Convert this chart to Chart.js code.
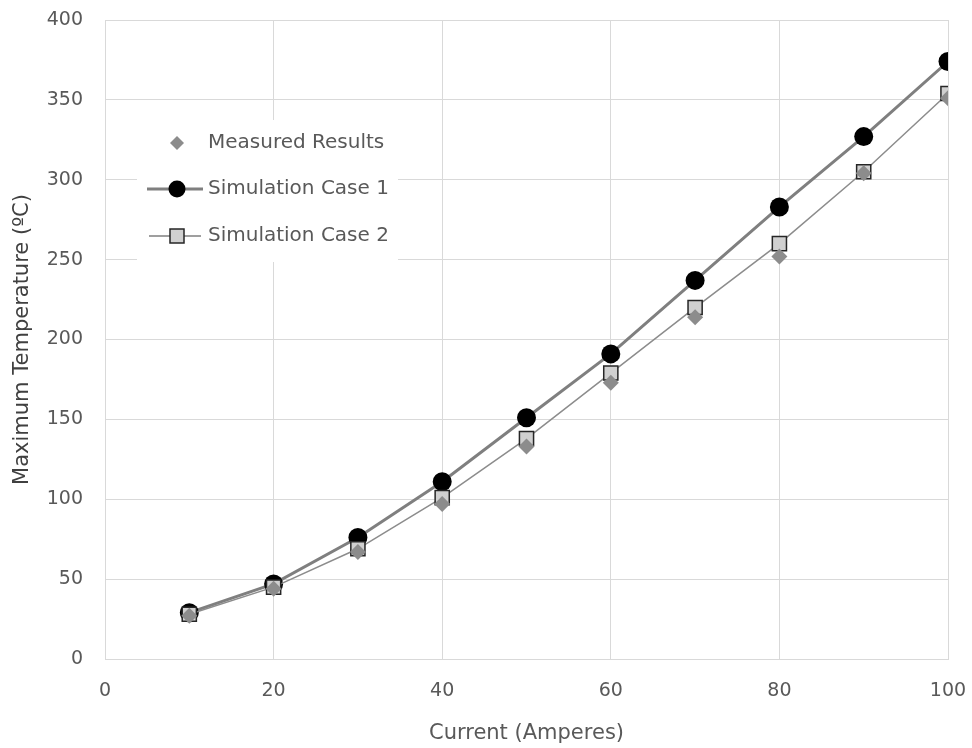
<!DOCTYPE html>
<html>
<head>
<meta charset="utf-8">
<script src="https://cdn.jsdelivr.net/npm/chart.js@4.4.0/dist/chart.umd.min.js"></script>
<style>
  html, body { margin: 0; padding: 0; background: #fff; }
  #wrap { width: 972px; height: 748px; }
</style>
</head>
<body>
<div id="wrap"><canvas id="tempChart" width="972" height="748"></canvas></div>
<script>
const CURRENTS = [10, 20, 30, 40, 50, 60, 70, 80, 90, 100];
const MEASURED = [27, 44, 67, 97, 133, 173, 214, 252, 304, 351];
const SIM_CASE_1 = [29, 47, 76, 111, 151, 191, 237, 283, 327, 374];
const SIM_CASE_2 = [28, 45, 69, 101, 138, 179, 220, 260, 305, 354];
const LEGEND_LABELS = ['Measured Results', 'Simulation Case 1', 'Simulation Case 2'];

const FONT = '"DejaVu Sans", "Noto Sans", sans-serif';
const toPoints = vals => vals.map((v, i) => ({ x: CURRENTS[i], y: v }));

// legend sits inside the plot on a white box, like the original
const insideLegend = {
    id: 'insideLegend',
    beforeDatasetsDraw(chart) {
        const ctx = chart.ctx;
        ctx.save();
        ctx.fillStyle = '#ffffff';
        ctx.fillRect(137, 120, 261, 142);
        ctx.font = '20px ' + FONT;
        ctx.textBaseline = 'middle';
        const rows = [143, 189, 236];
        const cx = 177;
        // measured: diamond only
        ctx.fillStyle = '#8c8c8c';
        ctx.beginPath();
        ctx.moveTo(cx, rows[0] - 7);
        ctx.lineTo(cx + 7, rows[0]);
        ctx.lineTo(cx, rows[0] + 7);
        ctx.lineTo(cx - 7, rows[0]);
        ctx.closePath();
        ctx.fill();
        // case 1: thick line + black circle
        ctx.strokeStyle = '#7f7f7f';
        ctx.lineWidth = 3;
        ctx.beginPath();
        ctx.moveTo(147, rows[1]);
        ctx.lineTo(203, rows[1]);
        ctx.stroke();
        ctx.fillStyle = '#000000';
        ctx.beginPath();
        ctx.arc(cx, rows[1], 8.5, 0, Math.PI * 2);
        ctx.fill();
        // case 2: thin line + grey square
        ctx.strokeStyle = '#7f7f7f';
        ctx.lineWidth = 1.5;
        ctx.beginPath();
        ctx.moveTo(149, rows[2]);
        ctx.lineTo(201, rows[2]);
        ctx.stroke();
        ctx.fillStyle = '#d0d0d0';
        ctx.fillRect(cx - 7, rows[2] - 7, 14, 14);
        ctx.strokeStyle = '#262626';
        ctx.lineWidth = 1.5;
        ctx.strokeRect(cx - 7, rows[2] - 7, 14, 14);

        ctx.fillStyle = '#595959';
        ctx.fillText(LEGEND_LABELS[0], 208, rows[0]);
        ctx.fillText(LEGEND_LABELS[1], 208, rows[1]);
        ctx.fillText(LEGEND_LABELS[2], 208, rows[2]);
        ctx.restore();
    }
};

const ctx = document.getElementById('tempChart').getContext('2d');
new Chart(ctx, {
    type: 'line',
    data: {
        datasets: [
            {
                label: LEGEND_LABELS[0],
                data: toPoints(MEASURED),
                showLine: false,
                pointStyle: 'rectRot',
                pointRadius: 8,
                pointBackgroundColor: '#8c8c8c',
                pointBorderColor: '#8c8c8c',
                pointBorderWidth: 0,
                order: 0
            },
            {
                label: LEGEND_LABELS[1],
                data: toPoints(SIM_CASE_1),
                borderColor: '#7f7f7f',
                borderWidth: 3,
                pointStyle: 'circle',
                pointRadius: 9.5,
                pointBackgroundColor: '#000000',
                pointBorderColor: '#000000',
                pointBorderWidth: 0,
                order: 2
            },
            {
                label: LEGEND_LABELS[2],
                data: toPoints(SIM_CASE_2),
                borderColor: '#8c8c8c',
                borderWidth: 1.5,
                pointStyle: 'rect',
                pointRadius: 10,
                pointBackgroundColor: '#d0d0d0',
                pointBorderColor: '#262626',
                pointBorderWidth: 1.5,
                order: 1
            }
        ]
    },
    options: {
        responsive: false,
        animation: false,
        layout: { padding: { top: 20, right: 24, left: 0, bottom: 0 } },
        plugins: {
            legend: { display: false },
            tooltip: { enabled: false }
        },
        scales: {
            x: {
                type: 'linear',
                min: 0,
                max: 100,
                ticks: { stepSize: 20, padding: 21, color: '#595959', font: { family: FONT, size: 19 } },
                grid: { color: '#d9d9d9', drawTicks: false },
                border: { color: '#d9d9d9' },
                title: { display: true, text: 'Current (Amperes)', color: '#595959', padding: { top: 2, bottom: 2 }, font: { family: FONT, size: 21 } },
                afterFit: scale => {
                    scale.height = 89;
                    scale.paddingLeft = 0;
                    scale.paddingRight = 0;
                }
            },
            y: {
                min: 0,
                max: 400,
                ticks: { stepSize: 50, padding: 22, color: '#595959', font: { family: FONT, size: 19 } },
                grid: { color: '#d9d9d9', drawTicks: false },
                border: { color: '#d9d9d9' },
                title: { display: true, text: 'Maximum Temperature (ºC)', color: '#404040', padding: { top: 10, bottom: 5 }, font: { family: FONT, size: 21 } },
                afterFit: scale => {
                    scale.width = 105;
                    scale.paddingTop = 0;
                    scale.paddingBottom = 0;
                }
            }
        }
    },
    plugins: [insideLegend]
});
</script>
</body>
</html>
